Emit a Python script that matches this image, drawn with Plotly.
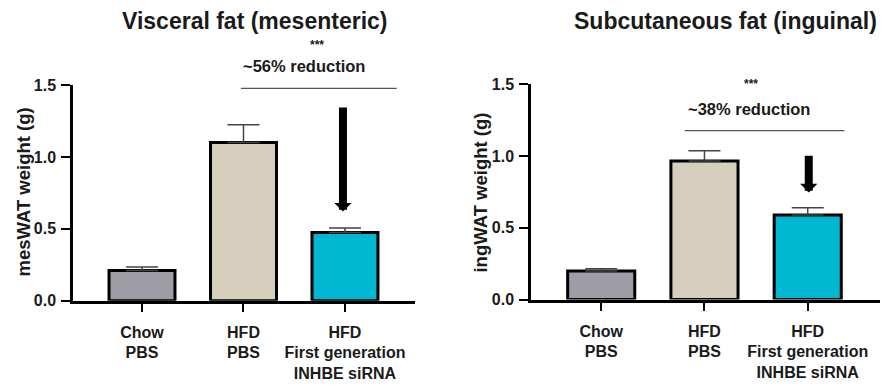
import plotly.graph_objects as go

categories = ["Chow<br>PBS", "HFD<br>PBS", "HFD<br>First generation<br>INHBE siRNA"]
mes_values = [0.21, 1.10, 0.475]
mes_err = [0.025, 0.125, 0.03]
ing_values = [0.20, 0.967, 0.59]
ing_err = [0.015, 0.07, 0.05]
bar_colors = ["#9e9da5", "#d6cfbe", "#00b7d2"]
y_ticks = [0.0, 0.5, 1.0, 1.5]
y_ticktext = ["0.0", "0.5", "1.0", "1.5"]

FONT = "Liberation Sans, Arial, sans-serif"
W, H = 896, 387

fig = go.Figure()

def add_bars(values, err, xa, ya):
    fig.add_trace(go.Bar(
        x=categories, y=values, xaxis=xa, yaxis=ya,
        width=0.65,
        marker=dict(color=bar_colors, line=dict(color="black", width=3)),
        error_y=dict(type="data", symmetric=False, array=err,
                     arrayminus=[0] * len(err), width=16, thickness=1.5,
                     color="#444444"),
        showlegend=False,
    ))

add_bars(mes_values, mes_err, "x", "y")
add_bars(ing_values, ing_err, "x2", "y2")

axis_common = dict(showgrid=False, zeroline=False, showline=True,
                   linecolor="black", linewidth=2.5, ticks="outside",
                   tickcolor="black", tickwidth=2, ticklen=9)
xtickfont = dict(family=FONT, size=16, color="#1a1a1a", weight="bold")
ytickfont = dict(family=FONT, size=16, color="#1a1a1a", weight="bold")

fig.update_layout(
    width=W, height=H,
    margin=dict(l=0, r=0, t=0, b=0),
    paper_bgcolor="white", plot_bgcolor="white",
    bargap=0.35,
    xaxis=dict(domain=[73 / W, 415 / W], range=[-0.68, 2.69], anchor="y",
               type="category", tickfont=xtickfont, ticklabelstandoff=6, **axis_common),
    yaxis=dict(domain=[0.209, 0.7915], range=[0, 1.5], anchor="x",
               tickvals=y_ticks, ticktext=y_ticktext, tickfont=ytickfont,
               ticklabelstandoff=2, **axis_common),
    xaxis2=dict(domain=[531 / W, 880 / W], range=[-0.68, 2.70], anchor="y2",
                type="category", tickfont=xtickfont, ticklabelstandoff=6, **axis_common),
    yaxis2=dict(domain=[0.212, 0.7933], range=[0, 1.5], anchor="x2",
                tickvals=y_ticks, ticktext=y_ticktext, tickfont=ytickfont,
                ticklabelstandoff=2, **axis_common),
)

# significance brackets
fig.add_shape(type="line", xref="x", yref="y", x0=0.975, x1=2.51, y0=1.478, y1=1.478,
              line=dict(color="#555555", width=1.2))
fig.add_shape(type="line", xref="x2", yref="y2", x0=0.81, x1=2.355, y0=1.178, y1=1.178,
              line=dict(color="#555555", width=1.2))

bold = lambda s: dict(family=FONT, size=s, color="#1a1a1a", weight="bold")

def ptext(text, px, py, size, angle=0):
    return dict(text=text, xref="paper", yref="paper", x=px / W, y=1 - py / H,
                xanchor="center", yanchor="middle", showarrow=False,
                textangle=angle, font=bold(size))

ann = [
    ptext("Visceral fat (mesenteric)", 255, 14, 23),
    ptext("Subcutaneous fat (inguinal)", 725, 14, 23),
    ptext("mesWAT weight (g)", 24, 193, 18.5, -90),
    ptext("ingWAT weight (g)", 481, 193, 18.5, -90),
    ptext("***", 317, 39, 12),
    ptext("~56% reduction", 304, 61, 16.5),
    ptext("***", 751, 80, 12),
    ptext("~38% reduction", 749, 106, 16.5),
    # arrows
    dict(text="", xref="x", yref="y", axref="x", ayref="y", x=1.98, y=0.62,
         ax=1.98, ay=1.355, showarrow=True, arrowhead=1, arrowwidth=8,
         arrowsize=0.36, arrowcolor="black", standoff=0),
    dict(text="", xref="x2", yref="y2", axref="x2", ayref="y2", x=2.01, y=0.747,
         ax=2.01, ay=1.013, showarrow=True, arrowhead=1, arrowwidth=8,
         arrowsize=0.36, arrowcolor="black", standoff=0),
]
fig.update_layout(annotations=ann)

fig.write_html("out.html")
